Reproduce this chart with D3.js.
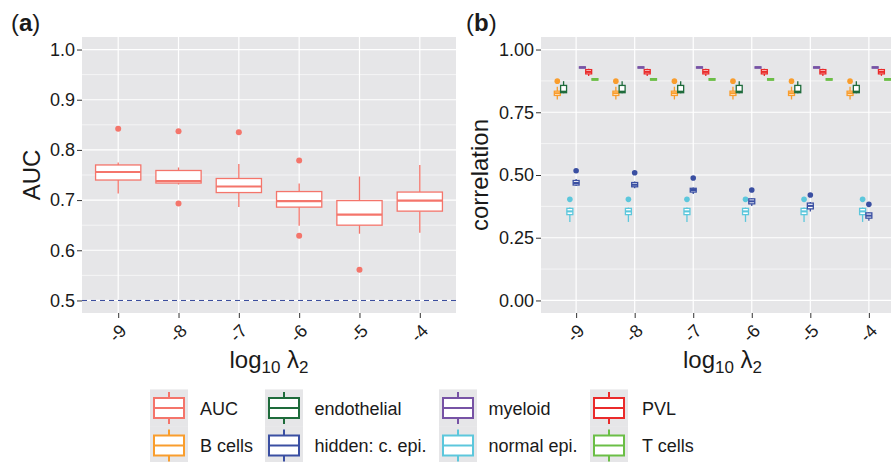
<!DOCTYPE html>
<html>
<head>
<meta charset="utf-8">
<script src="https://cdn.jsdelivr.net/npm/d3@7"></script>
<style>
  body { margin: 0; background: #fff; }
  text { font-family: "Liberation Sans", Arial, sans-serif; fill: #1a1a1a; }
</style>
</head>
<body>
<script>
// ---- data ----
const lambdas = [-9, -8, -7, -6, -5, -4];

// panel (a): AUC boxplots
const aucLo  = [0.713, 0.731, 0.686, 0.649, 0.633, 0.635];
const aucQ1  = [0.740, 0.734, 0.715, 0.686, 0.650, 0.678];
const aucMed = [0.756, 0.738, 0.727, 0.698, 0.671, 0.699];
const aucQ3  = [0.770, 0.759, 0.743, 0.717, 0.699, 0.716];
const aucHi  = [0.775, 0.765, 0.772, 0.733, 0.747, 0.770];
const aucOut = [[0.842], [0.837, 0.693], [0.835], [0.779, 0.629], [0.561], []];

const aTicks = [0.5, 0.6, 0.7, 0.8, 0.9, 1.0];
const aMinor = [0.55, 0.65, 0.75, 0.85, 0.95];
const bTicks = [0, 0.25, 0.5, 0.75, 1];
const bMinor = [0.125, 0.375, 0.625, 0.875];

// panel (b): correlation per cell type, one row per lambda: [lo, q1, med, q3, hi, outlier]
const bCells = [
  [0.801, 0.817, 0.826, 0.834, 0.852, 0.874],
  [0.801, 0.817, 0.826, 0.834, 0.852, 0.874],
  [0.801, 0.817, 0.826, 0.834, 0.852, 0.874],
  [0.801, 0.817, 0.826, 0.834, 0.852, 0.874],
  [0.801, 0.817, 0.826, 0.834, 0.852, 0.874],
  [0.801, 0.817, 0.826, 0.834, 0.852, 0.874]
];
const endothelial = [
  [0.826, 0.828, 0.832, 0.857, 0.874, null],
  [0.826, 0.828, 0.832, 0.857, 0.874, null],
  [0.826, 0.828, 0.832, 0.857, 0.874, null],
  [0.826, 0.828, 0.832, 0.857, 0.874, null],
  [0.826, 0.828, 0.832, 0.857, 0.874, null],
  [0.826, 0.828, 0.832, 0.857, 0.874, null]
];
const normalEpi = [
  [0.313, 0.342, 0.355, 0.367, 0.370, 0.403],
  [0.313, 0.342, 0.355, 0.367, 0.370, 0.403],
  [0.313, 0.342, 0.355, 0.367, 0.370, 0.403],
  [0.313, 0.342, 0.355, 0.367, 0.370, 0.403],
  [0.313, 0.342, 0.355, 0.367, 0.370, 0.403],
  [0.313, 0.342, 0.355, 0.367, 0.370, 0.403]
];
const hiddenEpi = [
  [0.456, 0.460, 0.468, 0.478, 0.484, 0.517],
  [0.447, 0.453, 0.461, 0.470, 0.474, 0.509],
  [0.424, 0.432, 0.440, 0.447, 0.450, 0.488],
  [0.376, 0.385, 0.395, 0.405, 0.408, 0.440],
  [0.355, 0.365, 0.377, 0.388, 0.392, 0.420],
  [0.318, 0.328, 0.338, 0.349, 0.352, 0.383]
];
const myeloid = [
  [0.926, 0.926, 0.929, 0.931, 0.931, null],
  [0.926, 0.926, 0.929, 0.931, 0.931, null],
  [0.926, 0.926, 0.929, 0.931, 0.931, null],
  [0.926, 0.926, 0.929, 0.931, 0.931, null],
  [0.926, 0.926, 0.929, 0.931, 0.931, null],
  [0.926, 0.926, 0.929, 0.931, 0.931, null]
];
const pvl = [
  [0.895, 0.903, 0.911, 0.920, 0.923, null],
  [0.895, 0.903, 0.911, 0.920, 0.923, null],
  [0.895, 0.903, 0.911, 0.920, 0.923, null],
  [0.895, 0.903, 0.911, 0.920, 0.923, null],
  [0.895, 0.903, 0.911, 0.920, 0.923, null],
  [0.895, 0.903, 0.911, 0.920, 0.923, null]
];
const tCells = [
  [0.878, 0.878, 0.881, 0.884, 0.884, null],
  [0.878, 0.878, 0.881, 0.884, 0.884, null],
  [0.878, 0.878, 0.881, 0.884, 0.884, null],
  [0.878, 0.878, 0.881, 0.884, 0.884, null],
  [0.878, 0.878, 0.881, 0.884, 0.884, null],
  [0.878, 0.878, 0.881, 0.884, 0.884, null]
];

// dodge order used in panel (b)
const dodgeOrder = ["B cells", "endothelial", "normal epi.", "hidden: c. epi.", "myeloid", "PVL", "T cells"];
const cellData = {
  "B cells": bCells, "endothelial": endothelial, "normal epi.": normalEpi,
  "hidden: c. epi.": hiddenEpi, "myeloid": myeloid, "PVL": pvl, "T cells": tCells
};

// legend (column-major)
const legendLabels = ["AUC", "B cells", "endothelial", "hidden: c. epi.", "myeloid", "normal epi.", "PVL", "T cells"];
const colors = {
  "AUC": "#F4756B", "B cells": "#F99D2D", "endothelial": "#1E6B3B", "hidden: c. epi.": "#3A4FA2",
  "myeloid": "#7753A5", "normal epi.": "#5CC7DC", "PVL": "#EA2B2B", "T cells": "#6BBE46"
};

const panelBg = "#E6E6E8";
const W = 891, H = 462;
const svg = d3.select("body").append("svg").attr("width", W).attr("height", H);

function drawBox(g, cx, w, s, color, sw) {
  const [lo, q1, med, q3, hi] = s;
  g.append("line").attr("x1", cx).attr("x2", cx).attr("y1", s.y(hi)).attr("y2", s.y(q3))
    .attr("stroke", color).attr("stroke-width", sw);
  g.append("line").attr("x1", cx).attr("x2", cx).attr("y1", s.y(q1)).attr("y2", s.y(lo))
    .attr("stroke", color).attr("stroke-width", sw);
  g.append("rect").attr("x", cx - w / 2).attr("width", w)
    .attr("y", s.y(q3)).attr("height", Math.max(0.5, s.y(q1) - s.y(q3)))
    .attr("fill", "#fff").attr("stroke", color).attr("stroke-width", sw);
  g.append("line").attr("x1", cx - w / 2).attr("x2", cx + w / 2)
    .attr("y1", s.y(med)).attr("y2", s.y(med))
    .attr("stroke", color).attr("stroke-width", sw * 1.6);
}

function panel(x0, x1, y, ticks, minor, fmt) {
  const g = svg.append("g");
  g.append("rect").attr("x", x0).attr("y", 37).attr("width", x1 - x0).attr("height", 276).attr("fill", panelBg);
  g.selectAll(".mn").data(minor).join("line")
    .attr("x1", x0).attr("x2", x1).attr("y1", d => y(d)).attr("y2", d => y(d))
    .attr("stroke", "#fff").attr("stroke-width", 0.6);
  g.selectAll(".mj").data(ticks).join("line")
    .attr("x1", x0).attr("x2", x1).attr("y1", d => y(d)).attr("y2", d => y(d))
    .attr("stroke", "#fff").attr("stroke-width", 1.2);
  const ax = g.append("g").attr("transform", `translate(${x0},0)`)
    .call(d3.axisLeft(y).tickValues(ticks).tickFormat(fmt).tickSize(5).tickPadding(2));
  ax.select(".domain").remove();
  ax.selectAll(".tick line").attr("stroke", "#333");
  ax.selectAll(".tick text").attr("font-size", 18).attr("fill", "#1a1a1a")
    .style("font-family", '"Liberation Sans", Arial, sans-serif');
  return g;
}

function xAxis(g, x, x0, x1) {
  g.selectAll(".vg").data(lambdas).join("line")
    .attr("x1", d => x(d)).attr("x2", d => x(d)).attr("y1", 37).attr("y2", 313)
    .attr("stroke", "#fff").attr("stroke-width", 1.2);
  const ax = g.append("g").attr("transform", "translate(0,313)")
    .call(d3.axisBottom(x).tickFormat(d => String(d)).tickSize(5));
  ax.select(".domain").remove();
  ax.selectAll(".tick line").attr("stroke", "#333");
  ax.selectAll(".tick text").attr("font-size", 18).attr("fill", "#1a1a1a")
    .style("font-family", '"Liberation Sans", Arial, sans-serif')
    .attr("y", 0).attr("dy", 0).attr("text-anchor", "end")
    .attr("transform", "translate(9,19) rotate(-45)");
  const cx = (x0 + Math.min(x1, 891)) / 2;
  const t = svg.append("text").attr("x", (x0 + x1) / 2).attr("y", 368)
    .attr("text-anchor", "middle").attr("font-size", 24);
  t.append("tspan").text("log");
  t.append("tspan").attr("font-size", 17).attr("dy", 5).text("10");
  t.append("tspan").attr("dy", -5).text(" λ");
  t.append("tspan").attr("font-size", 17).attr("dy", 5).text("2");
}

// ---- panel (a) ----
const xA = d3.scalePoint().domain(lambdas).range([82, 456]).padding(0.6);
const yA = d3.scaleLinear().domain([0.475, 1.025]).range([313, 37]);
const gA = panel(82, 456, yA, aTicks, aMinor, d3.format(".1f"));
xAxis(gA, xA, 82, 456);
gA.append("line").attr("x1", 82).attr("x2", 456).attr("y1", yA(0.5)).attr("y2", yA(0.5))
  .attr("stroke", "#34479A").attr("stroke-width", 1).attr("stroke-dasharray", "5,4");
lambdas.forEach((l, i) => {
  const s = [aucLo[i], aucQ1[i], aucMed[i], aucQ3[i], aucHi[i]];
  s.y = yA;
  drawBox(gA, xA(l), xA.step() * 0.75, s, colors["AUC"], 1.3);
  aucOut[i].forEach(o => gA.append("circle").attr("cx", xA(l)).attr("cy", yA(o)).attr("r", 3)
    .attr("fill", colors["AUC"]));
});

// ---- panel (b) ----
const xB = d3.scalePoint().domain(lambdas).range([541, 904]).padding(0.6);
const yB = d3.scaleLinear().domain([-0.05, 1.05]).range([313, 37]);
const gB = panel(541, 904, yB, bTicks, bMinor, d3.format(".2f"));
xAxis(gB, xB, 541, 904);
const dw = xB.step() * 0.75 / dodgeOrder.length;
lambdas.forEach((l, i) => {
  dodgeOrder.forEach((name, j) => {
    const row = cellData[name][i];
    const cx = xB(l) - xB.step() * 0.75 / 2 + dw * (j + 0.5);
    const s = row.slice(0, 5);
    s.y = yB;
    drawBox(gB, cx, dw * 0.95, s, colors[name], 1.3);
    if (row[5] != null) gB.append("circle").attr("cx", cx).attr("cy", yB(row[5])).attr("r", 2.8)
      .attr("fill", colors[name]);
  });
});

// ---- titles ----
svg.append("text").attr("x", 11).attr("y", 31).attr("font-size", 24).html('(<tspan font-weight="bold">a</tspan>)');
svg.append("text").attr("x", 466).attr("y", 31).attr("font-size", 24).html('(<tspan font-weight="bold">b</tspan>)');
svg.append("text").attr("transform", "translate(40,175) rotate(-90)").attr("text-anchor", "middle")
  .attr("font-size", 24).text("AUC");
svg.append("text").attr("transform", "translate(488,175) rotate(-90)").attr("text-anchor", "middle")
  .attr("font-size", 24).text("correlation");

// ---- legend ----
const colX = [150, 265, 439, 590];
const textX = [200, 314.5, 488.5, 642];
const rowY = [408, 445.5];
legendLabels.forEach((name, k) => {
  const c = Math.floor(k / 2), r = k % 2;
  const kx = colX[c], cy = rowY[r];
  const g = svg.append("g");
  g.append("rect").attr("x", kx).attr("y", cy - 18.6).attr("width", 38).attr("height", 37.5).attr("fill", panelBg);
  const cx = kx + 19;
  g.append("line").attr("x1", cx).attr("x2", cx).attr("y1", cy - 16).attr("y2", cy + 16)
    .attr("stroke", colors[name]).attr("stroke-width", 2);
  g.append("rect").attr("x", kx + 4).attr("y", cy - 10).attr("width", 30).attr("height", 20)
    .attr("fill", "#fff").attr("stroke", colors[name]).attr("stroke-width", 2);
  g.append("line").attr("x1", kx + 4).attr("x2", kx + 34).attr("y1", cy).attr("y2", cy)
    .attr("stroke", colors[name]).attr("stroke-width", 2);
  svg.append("text").attr("x", textX[c]).attr("y", cy + 6.5).attr("font-size", 18).text(name);
});
</script>
</body>
</html>
